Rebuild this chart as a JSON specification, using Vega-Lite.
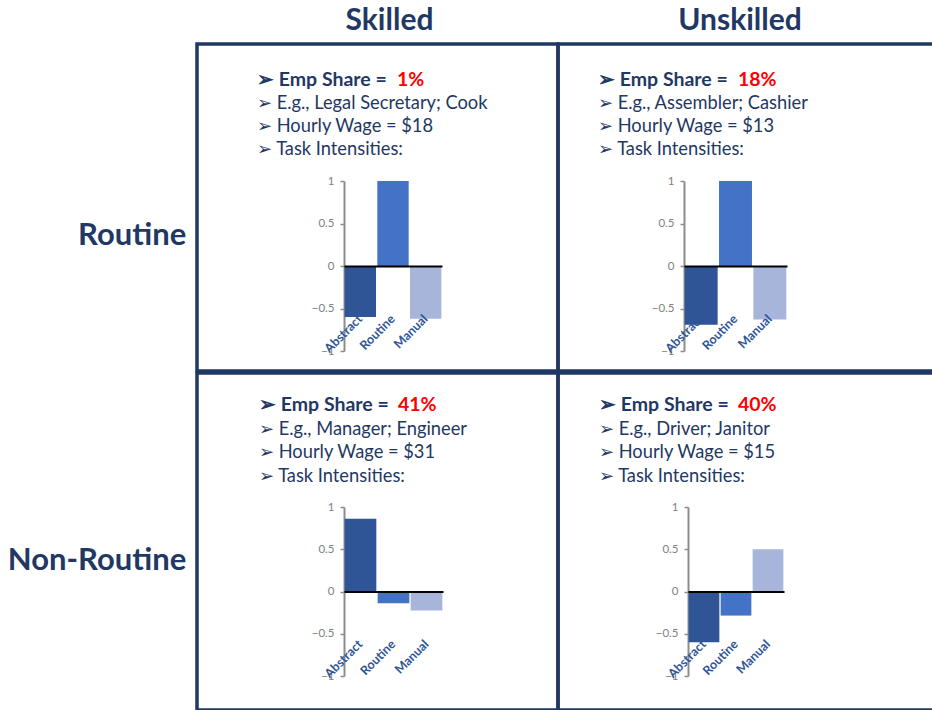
{
  "$schema": "https://vega.github.io/schema/vega-lite/v6.json",
  "background": "white",
  "padding": {"left": 7, "top": 4, "right": 0, "bottom": 0},
  "spacing": -3.5,
  "datasets": {
    "bars": [
      {"skill": "Skilled", "job": "Routine", "task": "Abstract", "value": -0.6},
      {"skill": "Skilled", "job": "Routine", "task": "Routine", "value": 1.0},
      {"skill": "Skilled", "job": "Routine", "task": "Manual", "value": -0.62},
      {"skill": "Unskilled", "job": "Routine", "task": "Abstract", "value": -0.69},
      {"skill": "Unskilled", "job": "Routine", "task": "Routine", "value": 1.0},
      {"skill": "Unskilled", "job": "Routine", "task": "Manual", "value": -0.63},
      {"skill": "Skilled", "job": "Non-Routine", "task": "Abstract", "value": 0.86},
      {"skill": "Skilled", "job": "Non-Routine", "task": "Routine", "value": -0.14},
      {"skill": "Skilled", "job": "Non-Routine", "task": "Manual", "value": -0.225},
      {"skill": "Unskilled", "job": "Non-Routine", "task": "Abstract", "value": -0.6},
      {"skill": "Unskilled", "job": "Non-Routine", "task": "Routine", "value": -0.285},
      {"skill": "Unskilled", "job": "Non-Routine", "task": "Manual", "value": 0.5}
    ],
    "lines": [
      {"skill": "Skilled", "job": "Routine", "line": 1, "part": "label", "text": "➢ Emp Share ="},
      {"skill": "Skilled", "job": "Routine", "line": 1, "part": "value", "text": "1%"},
      {"skill": "Skilled", "job": "Routine", "line": 2, "part": "label", "text": "➢ E.g., Legal Secretary; Cook"},
      {"skill": "Skilled", "job": "Routine", "line": 3, "part": "label", "text": "➢ Hourly Wage = $18"},
      {"skill": "Skilled", "job": "Routine", "line": 4, "part": "label", "text": "➢ Task Intensities:"},
      {"skill": "Unskilled", "job": "Routine", "line": 1, "part": "label", "text": "➢ Emp Share ="},
      {"skill": "Unskilled", "job": "Routine", "line": 1, "part": "value", "text": "18%"},
      {"skill": "Unskilled", "job": "Routine", "line": 2, "part": "label", "text": "➢ E.g., Assembler; Cashier"},
      {"skill": "Unskilled", "job": "Routine", "line": 3, "part": "label", "text": "➢ Hourly Wage = $13"},
      {"skill": "Unskilled", "job": "Routine", "line": 4, "part": "label", "text": "➢ Task Intensities:"},
      {"skill": "Skilled", "job": "Non-Routine", "line": 1, "part": "label", "text": "➢ Emp Share ="},
      {"skill": "Skilled", "job": "Non-Routine", "line": 1, "part": "value", "text": "41%"},
      {"skill": "Skilled", "job": "Non-Routine", "line": 2, "part": "label", "text": "➢ E.g., Manager; Engineer"},
      {"skill": "Skilled", "job": "Non-Routine", "line": 3, "part": "label", "text": "➢ Hourly Wage = $31"},
      {"skill": "Skilled", "job": "Non-Routine", "line": 4, "part": "label", "text": "➢ Task Intensities:"},
      {"skill": "Unskilled", "job": "Non-Routine", "line": 1, "part": "label", "text": "➢ Emp Share ="},
      {"skill": "Unskilled", "job": "Non-Routine", "line": 1, "part": "value", "text": "40%"},
      {"skill": "Unskilled", "job": "Non-Routine", "line": 2, "part": "label", "text": "➢ E.g., Driver; Janitor"},
      {"skill": "Unskilled", "job": "Non-Routine", "line": 3, "part": "label", "text": "➢ Hourly Wage = $15"},
      {"skill": "Unskilled", "job": "Non-Routine", "line": 4, "part": "label", "text": "➢ Task Intensities:"}
    ]
  },
  "vconcat": [
    {
      "hconcat": [
        {
          "width": 361, "height": 327,
          "title": {"text": "Skilled", "offset": 8, "dx": 12},
          "layer": [
            {
              "data": {"name": "bars"},
              "transform": [{"filter": "datum.skill == 'Skilled' && datum.job == 'Routine'"}],
              "encoding": {
                "x": {"field": "task", "type": "nominal", "sort": ["Abstract", "Routine", "Manual"],
                      "scale": {"domain": ["Abstract", "Routine", "Manual"], "range": [147, 245], "paddingInner": 0.04, "paddingOuter": 0.02},
                      "axis": {"orient": "bottom", "offset": -105, "labels": false, "ticks": false, "domain": true, "domainColor": "#000000", "domainWidth": 2, "grid": false, "title": null, "zindex": 1}}
              },
              "layer": [
                {"mark": {"type": "bar"},
                 "encoding": {
                   "y": {"field": "value", "type": "quantitative", "scale": {"domain": [-1, 1], "range": [307, 137], "nice": false},
                         "axis": {"orient": "left", "offset": -147, "values": [-1, -0.5, 0, 0.5, 1], "format": "~g", "grid": false, "title": null, "domainColor": "#8C8C8C", "domainWidth": 2, "tickColor": "#8C8C8C", "tickSize": 4, "tickWidth": 1.5, "labelColor": "#7F7F7F", "labelFontSize": 11.5, "labelPadding": 6}},
                   "color": {"field": "task", "type": "nominal", "scale": {"domain": ["Abstract", "Routine", "Manual"], "range": ["#2F5597", "#4472C4", "#A7B5DB"]}, "legend": null}
                 }},
                {"mark": {"type": "text", "angle": 315, "align": "right", "baseline": "middle", "fontWeight": "bold", "fontSize": 12.5, "color": "#2F5597"},
                 "encoding": {"y": {"datum": -0.6}, "text": {"field": "task"}}}
              ]
            },
            {
              "data": {"name": "lines"},
              "transform": [{"filter": "datum.skill == 'Skilled' && datum.job == 'Routine'"}],
              "encoding": {
                "x": {"field": "part", "type": "nominal", "scale": {"type": "point", "domain": ["label", "value"], "range": [60, 200], "padding": 0}, "axis": null},
                "y": {"field": "line", "type": "ordinal", "scale": {"type": "point", "domain": [1, 2, 3, 4], "range": [42, 111], "padding": 0}, "axis": null},
                "text": {"field": "text"}
              },
              "layer": [
                {"transform": [{"filter": "datum.line == 1 && datum.part == 'label'"}], "mark": {"type": "text", "align": "left", "baseline": "alphabetic", "fontSize": 19.5, "fontWeight": "bold", "color": "#1F3864"}},
                {"transform": [{"filter": "datum.part == 'value'"}], "mark": {"type": "text", "align": "left", "baseline": "alphabetic", "fontSize": 19.5, "fontWeight": "bold", "color": "#FF0000"}},
                {"transform": [{"filter": "datum.line > 1"}], "mark": {"type": "text", "align": "left", "baseline": "alphabetic", "fontSize": 18.3, "color": "#1F3864"}}
              ]
            }
          ],
          "resolve": {"scale": {"x": "independent", "y": "independent"}}
        },
        {
          "width": 383, "height": 327,
          "title": {"text": "Unskilled", "offset": 8, "dx": -9.5},
          "layer": [
            {
              "data": {"name": "bars"},
              "transform": [{"filter": "datum.skill == 'Unskilled' && datum.job == 'Routine'"}],
              "encoding": {
                "x": {"field": "task", "type": "nominal", "sort": ["Abstract", "Routine", "Manual"],
                      "scale": {"domain": ["Abstract", "Routine", "Manual"], "range": [126, 229], "paddingInner": 0.04, "paddingOuter": 0.02},
                      "axis": {"orient": "bottom", "offset": -105, "labels": false, "ticks": false, "domain": true, "domainColor": "#000000", "domainWidth": 2, "grid": false, "title": null, "zindex": 1}}
              },
              "layer": [
                {"mark": {"type": "bar"},
                 "encoding": {
                   "y": {"field": "value", "type": "quantitative", "scale": {"domain": [-1, 1], "range": [307, 137], "nice": false},
                         "axis": {"orient": "left", "offset": -126, "values": [-1, -0.5, 0, 0.5, 1], "format": "~g", "grid": false, "title": null, "domainColor": "#8C8C8C", "domainWidth": 2, "tickColor": "#8C8C8C", "tickSize": 4, "tickWidth": 1.5, "labelColor": "#7F7F7F", "labelFontSize": 11.5, "labelPadding": 6}},
                   "color": {"field": "task", "type": "nominal", "scale": {"domain": ["Abstract", "Routine", "Manual"], "range": ["#2F5597", "#4472C4", "#A7B5DB"]}, "legend": null}
                 }},
                {"mark": {"type": "text", "angle": 315, "align": "right", "baseline": "middle", "fontWeight": "bold", "fontSize": 12.5, "color": "#2F5597"},
                 "encoding": {"y": {"datum": -0.6}, "text": {"field": "task"}}}
              ]
            },
            {
              "data": {"name": "lines"},
              "transform": [{"filter": "datum.skill == 'Unskilled' && datum.job == 'Routine'"}],
              "encoding": {
                "x": {"field": "part", "type": "nominal", "scale": {"type": "point", "domain": ["label", "value"], "range": [40, 180], "padding": 0}, "axis": null},
                "y": {"field": "line", "type": "ordinal", "scale": {"type": "point", "domain": [1, 2, 3, 4], "range": [42, 111], "padding": 0}, "axis": null},
                "text": {"field": "text"}
              },
              "layer": [
                {"transform": [{"filter": "datum.line == 1 && datum.part == 'label'"}], "mark": {"type": "text", "align": "left", "baseline": "alphabetic", "fontSize": 19.5, "fontWeight": "bold", "color": "#1F3864"}},
                {"transform": [{"filter": "datum.part == 'value'"}], "mark": {"type": "text", "align": "left", "baseline": "alphabetic", "fontSize": 19.5, "fontWeight": "bold", "color": "#FF0000"}},
                {"transform": [{"filter": "datum.line > 1"}], "mark": {"type": "text", "align": "left", "baseline": "alphabetic", "fontSize": 18.3, "color": "#1F3864"}}
              ]
            }
          ],
          "resolve": {"scale": {"x": "independent", "y": "independent"}}
        }
      ],
      "spacing": 0,
      "bounds": "flush",
      "title": {"text": "Routine", "orient": "left", "angle": 0, "align": "left", "baseline": "alphabetic", "anchor": "middle", "offset": 9, "dy": 56, "fontSize": 31}
    },
    {
      "hconcat": [
        {
          "width": 361, "height": 337,
          "layer": [
            {
              "data": {"name": "bars"},
              "transform": [{"filter": "datum.skill == 'Skilled' && datum.job == 'Non-Routine'"}],
              "encoding": {
                "x": {"field": "task", "type": "nominal", "sort": ["Abstract", "Routine", "Manual"],
                      "scale": {"domain": ["Abstract", "Routine", "Manual"], "range": [147, 246], "paddingInner": 0.04, "paddingOuter": 0.02},
                      "axis": {"orient": "bottom", "offset": -118.5, "labels": false, "ticks": false, "domain": true, "domainColor": "#000000", "domainWidth": 2, "grid": false, "title": null, "zindex": 1}}
              },
              "layer": [
                {"mark": {"type": "bar"},
                 "encoding": {
                   "y": {"field": "value", "type": "quantitative", "scale": {"domain": [-1, 1], "range": [303, 134], "nice": false},
                         "axis": {"orient": "left", "offset": -147, "values": [-1, -0.5, 0, 0.5, 1], "format": "~g", "grid": false, "title": null, "domainColor": "#8C8C8C", "domainWidth": 2, "tickColor": "#8C8C8C", "tickSize": 4, "tickWidth": 1.5, "labelColor": "#7F7F7F", "labelFontSize": 11.5, "labelPadding": 6}},
                   "color": {"field": "task", "type": "nominal", "scale": {"domain": ["Abstract", "Routine", "Manual"], "range": ["#2F5597", "#4472C4", "#A7B5DB"]}, "legend": null}
                 }},
                {"mark": {"type": "text", "angle": 315, "align": "right", "baseline": "middle", "fontWeight": "bold", "fontSize": 12.5, "color": "#2F5597"},
                 "encoding": {"y": {"datum": -0.6}, "text": {"field": "task"}}}
              ]
            },
            {
              "data": {"name": "lines"},
              "transform": [{"filter": "datum.skill == 'Skilled' && datum.job == 'Non-Routine'"}],
              "encoding": {
                "x": {"field": "part", "type": "nominal", "scale": {"type": "point", "domain": ["label", "value"], "range": [62, 201], "padding": 0}, "axis": null},
                "y": {"field": "line", "type": "ordinal", "scale": {"type": "point", "domain": [1, 2, 3, 4], "range": [38, 109], "padding": 0}, "axis": null},
                "text": {"field": "text"}
              },
              "layer": [
                {"transform": [{"filter": "datum.line == 1 && datum.part == 'label'"}], "mark": {"type": "text", "align": "left", "baseline": "alphabetic", "fontSize": 19.5, "fontWeight": "bold", "color": "#1F3864"}},
                {"transform": [{"filter": "datum.part == 'value'"}], "mark": {"type": "text", "align": "left", "baseline": "alphabetic", "fontSize": 19.5, "fontWeight": "bold", "color": "#FF0000"}},
                {"transform": [{"filter": "datum.line > 1"}], "mark": {"type": "text", "align": "left", "baseline": "alphabetic", "fontSize": 18.3, "color": "#1F3864"}}
              ]
            }
          ],
          "resolve": {"scale": {"x": "independent", "y": "independent"}}
        },
        {
          "width": 383, "height": 337,
          "layer": [
            {
              "data": {"name": "bars"},
              "transform": [{"filter": "datum.skill == 'Unskilled' && datum.job == 'Non-Routine'"}],
              "encoding": {
                "x": {"field": "task", "type": "nominal", "sort": ["Abstract", "Routine", "Manual"],
                      "scale": {"domain": ["Abstract", "Routine", "Manual"], "range": [130, 226], "paddingInner": 0.04, "paddingOuter": 0.02},
                      "axis": {"orient": "bottom", "offset": -118.5, "labels": false, "ticks": false, "domain": true, "domainColor": "#000000", "domainWidth": 2, "grid": false, "title": null, "zindex": 1}}
              },
              "layer": [
                {"mark": {"type": "bar"},
                 "encoding": {
                   "y": {"field": "value", "type": "quantitative", "scale": {"domain": [-1, 1], "range": [303, 134], "nice": false},
                         "axis": {"orient": "left", "offset": -130, "values": [-1, -0.5, 0, 0.5, 1], "format": "~g", "grid": false, "title": null, "domainColor": "#8C8C8C", "domainWidth": 2, "tickColor": "#8C8C8C", "tickSize": 4, "tickWidth": 1.5, "labelColor": "#7F7F7F", "labelFontSize": 11.5, "labelPadding": 6}},
                   "color": {"field": "task", "type": "nominal", "scale": {"domain": ["Abstract", "Routine", "Manual"], "range": ["#2F5597", "#4472C4", "#A7B5DB"]}, "legend": null}
                 }},
                {"mark": {"type": "text", "angle": 315, "align": "right", "baseline": "middle", "fontWeight": "bold", "fontSize": 12.5, "color": "#2F5597"},
                 "encoding": {"y": {"datum": -0.6}, "text": {"field": "task"}}}
              ]
            },
            {
              "data": {"name": "lines"},
              "transform": [{"filter": "datum.skill == 'Unskilled' && datum.job == 'Non-Routine'"}],
              "encoding": {
                "x": {"field": "part", "type": "nominal", "scale": {"type": "point", "domain": ["label", "value"], "range": [41, 180], "padding": 0}, "axis": null},
                "y": {"field": "line", "type": "ordinal", "scale": {"type": "point", "domain": [1, 2, 3, 4], "range": [38, 109], "padding": 0}, "axis": null},
                "text": {"field": "text"}
              },
              "layer": [
                {"transform": [{"filter": "datum.line == 1 && datum.part == 'label'"}], "mark": {"type": "text", "align": "left", "baseline": "alphabetic", "fontSize": 19.5, "fontWeight": "bold", "color": "#1F3864"}},
                {"transform": [{"filter": "datum.part == 'value'"}], "mark": {"type": "text", "align": "left", "baseline": "alphabetic", "fontSize": 19.5, "fontWeight": "bold", "color": "#FF0000"}},
                {"transform": [{"filter": "datum.line > 1"}], "mark": {"type": "text", "align": "left", "baseline": "alphabetic", "fontSize": 18.3, "color": "#1F3864"}}
              ]
            }
          ],
          "resolve": {"scale": {"x": "independent", "y": "independent"}}
        }
      ],
      "spacing": 0,
      "bounds": "flush",
      "title": {"text": "Non-Routine", "orient": "left", "angle": 0, "align": "left", "baseline": "alphabetic", "anchor": "middle", "offset": 9, "dy": 28.5, "fontSize": 31}
    }
  ],
  "config": {
    "font": "Lato",
    "view": {"stroke": "#1F3864", "strokeWidth": 3.5},
    "title": {"font": "Lato", "fontSize": 30, "fontWeight": "bold", "color": "#1F3864", "baseline": "alphabetic"},
    "text": {"font": "Lato"},
    "axis": {"labelFont": "Lato"}
  }
}
